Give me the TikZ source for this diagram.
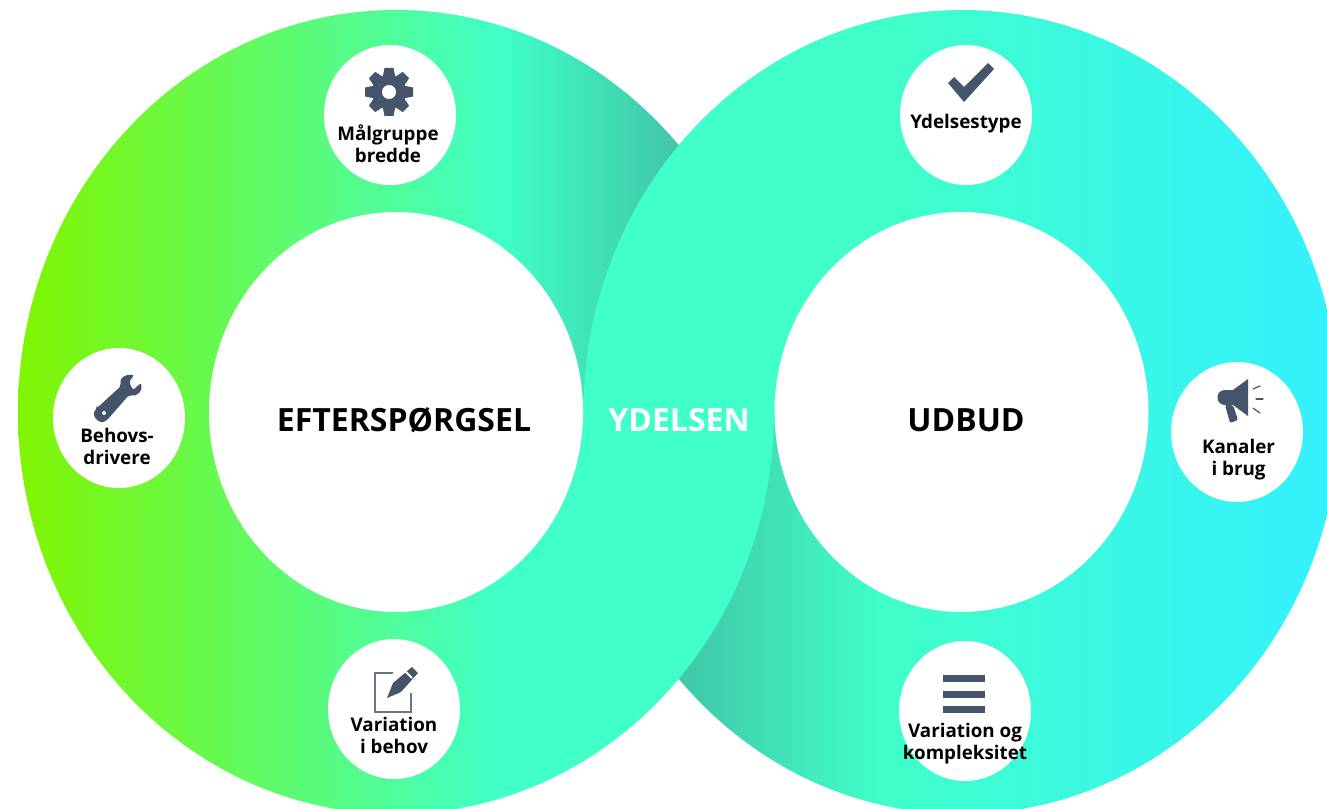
\documentclass[tikz,border=0pt]{standalone}
\usepackage{fontspec}
\setmainfont{Open Sans}
\usetikzlibrary{shapes.geometric}

\definecolor{ringgreen}{RGB}{128,245,0}
\definecolor{ringteal}{RGB}{64,255,200}
\definecolor{ringdark}{RGB}{64,198,168}
\definecolor{ringcyan}{RGB}{51,240,255}
\definecolor{iconblue}{RGB}{68,84,106}

% 25bp and 75bp are the edges of the shaded ellipse
\pgfdeclarehorizontalshading{leftupper}{100bp}{color(0bp)=(ringgreen); color(25bp)=(ringgreen); color(56.9bp)=(ringteal); color(68.6bp)=(ringdark); color(100bp)=(ringdark)}
\pgfdeclarehorizontalshading{leftlower}{100bp}{color(0bp)=(ringgreen); color(25bp)=(ringgreen); color(56.9bp)=(ringteal); color(100bp)=(ringteal)}
\pgfdeclarehorizontalshading{rightupper}{100bp}{color(0bp)=(ringteal); color(44.6bp)=(ringteal); color(75bp)=(ringcyan); color(100bp)=(ringcyan)}
\pgfdeclarehorizontalshading{rightlower}{100bp}{color(0bp)=(ringdark); color(31.2bp)=(ringdark); color(44.6bp)=(ringteal); color(75bp)=(ringcyan); color(100bp)=(ringcyan)}

\tikzset{
	hub/.style={ellipse, fill=white, inner sep=0, minimum width=187pt, minimum height=200pt},
	spot/.style={ellipse, fill=white, inner sep=0, minimum width=66pt, minimum height=70pt},
	title/.style={font=\fontsize{16}{19}\selectfont\bfseries},
	label/.style={font=\fontsize{9.4}{11}\selectfont\bfseries, align=center, inner sep=0},
	icon/.style={fill=iconblue, draw=none},
	iconline/.style={draw=iconblue, line cap=round}
}

\begin{document}
\begin{tikzpicture}[x=0.5pt,y=-0.5pt]
\useasboundingbox (0,0) rectangle (1327,808);

% rings, left one between the two halves of the right one
\begin{scope}
	\clip (500,412) rectangle (1400,900);
	\shade[shading=rightlower] (961.5,412) ellipse [x radius=378, y radius=402];
\end{scope}
\begin{scope}
	\clip (0,-20) rectangle (900,412);
	\shade[shading=leftupper] (396,412) ellipse [x radius=378, y radius=402];
\end{scope}
\begin{scope}
	\clip (0,412) rectangle (900,900);
	\shade[shading=leftlower] (396,412) ellipse [x radius=378, y radius=402];
\end{scope}
\begin{scope}
	\clip (500,-20) rectangle (1400,412);
	\shade[shading=rightupper] (961.5,412) ellipse [x radius=378, y radius=402];
\end{scope}

\draw (396,412) node (efterhub) [hub] {};
\draw (961.5,412) node (udbudhub) [hub] {};

\foreach \x/\y/\name in {390/115/malgruppe, 119/418/behov, 394/709/variation, 966/115/ydelse, 1237/432/kanaler, 965/711/kompleks}
	\draw (\x,\y) node (\name) [spot] {};

\draw (404,420) node (eftertext) [title] {EFTERSPØRGSEL};
\draw (679,420) node (ydelsen) [title, white] {YDELSEN};
\draw (966,420) node (udbud) [title] {UDBUD};

\draw (388,144) node (malgruppetext) [label] {Målgruppe\\bredde};
\draw (117,446) node (behovtext) [label] {Behovs-\\drivere};
\draw (394,735) node (variationtext) [label] {Variation\\i behov};
\draw (966,124) node (ydelsetext) [label] {Ydelsestype};
\draw (1238.5,460) node (kanalertext) [label] {Kanaler\\i brug};
\draw (965,744) node (komplekstext) [label] {Variation og\\kompleksitet};

% gear
\fill[icon] (389,92) circle [radius=17];
\foreach \a in {0,45,...,315}
	\fill[icon, rotate around={\a:(389,92)}] (384.5,68) -- (393.5,68) -- (395.5,78) -- (382.5,78) -- cycle;
\fill[white] (389,92) circle [radius=7];

% wrench
\fill[icon, rounded corners=1pt] (97,408) -- (121,386) .. controls (119,378) and (125,374) .. (134,375)
	-- (129,382) -- (133,390) -- (141,383) .. controls (143,391) and (137,397) .. (129,395)
	-- (108,419) .. controls (100,426) and (90,416) .. (97,408) -- cycle;
\fill[white] (104,413) circle [radius=2];

% pencil and box
\draw[iconblue!80!white, line width=1.2pt] (393,673) -- (375,673) -- (375,712) -- (411,712) -- (411,693);
\fill[icon] (387,698) -- (393,683) -- (412,667) -- (418,673) -- (401,692) -- cycle;
\draw[white, line width=0.9pt] (405,671) -- (412,678);

% check mark
\fill[icon] (948,83) -- (954,77) -- (964,87) -- (988,63) -- (994,69) -- (964,102) -- cycle;

% megaphone
\fill[icon] (1248,379) -- (1248,416) -- (1233,405) -- (1225,405) .. controls (1215,405) and (1215,390) .. (1225,390) -- (1233,390) -- cycle;
\fill[icon, rounded corners=1pt] (1225,405) -- (1230,423) -- (1238,420) -- (1233,405) -- cycle;
\draw[iconline, line width=0.6pt] (1253,389) -- (1260,386);
\draw[iconline, line width=0.6pt] (1256,399) -- (1263,399);
\draw[iconline, line width=0.6pt] (1253,408) -- (1260,413);

% three bars
\foreach \y in {675,691,706}
	\fill[icon] (943,\y) rectangle +(42,7);

\end{tikzpicture}
\end{document}
